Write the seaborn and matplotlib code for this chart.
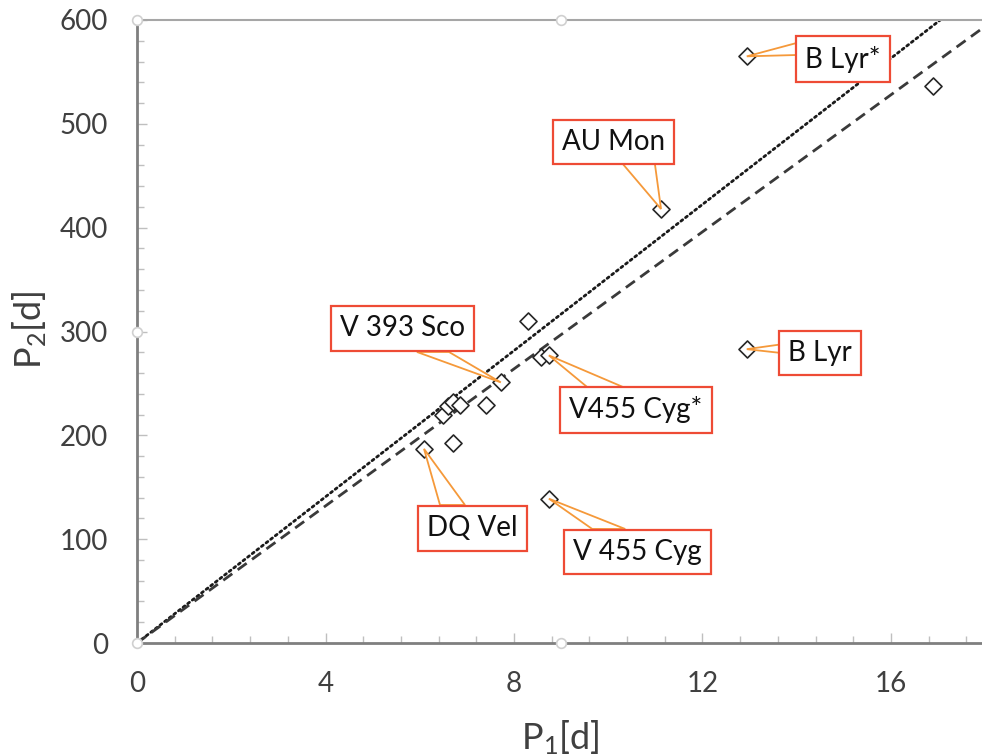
import numpy as np
import pandas as pd
import matplotlib
matplotlib.use("Agg")
import matplotlib.pyplot as plt
from matplotlib.patches import Polygon
from matplotlib.ticker import MultipleLocator
import seaborn as sns

# Orbital period P1 and long period P2 (days)
P1 = [12.94, 16.89, 11.12, 12.94, 8.30, 8.57, 8.74, 7.72, 7.41, 6.71, 6.09, 8.74,
      6.50, 6.60, 6.70, 6.85]
P2 = [565, 536, 418, 283, 310, 275, 277, 251, 229, 193, 187, 139,
      220, 228, 232, 229]

# Proportional relations P2 = k * P1
k_dotted = 35.2
k_dashed = 33.0
fit_x = [0.0, 18.0]

x_ticks = [0, 4, 8, 12, 16]
y_ticks = [0, 100, 200, 300, 400, 500, 600]

# Named stars: label, index into P1/P2
names = ["B Lyr*", "AU Mon", "V 393 Sco", "V455 Cyg*", "B Lyr", "DQ Vel", "V 455 Cyg"]
name_idx = [0, 2, 7, 6, 3, 10, 11]
# callout box centre and wedge base points (data units)
box_xy = [(14.98, 562.4), (10.11, 482.5), (5.63, 302.9), (10.59, 224.4),
          (14.50, 279.3), (7.11, 110.3), (10.62, 87.6)]
wedge_base = [((14.0, 577.9), (14.0, 566.3)),
              ((10.31, 461.3), (10.99, 461.3)),
              ((5.94, 280.3), (6.62, 280.3)),
              ((9.55, 246.6), (10.31, 246.6)),
              ((13.73, 288.0), (13.73, 279.0)),
              ((6.43, 132.9), (6.96, 132.9)),
              ((9.66, 109.8), (10.36, 109.8))]

sns.set_theme(style="white")
plt.rcParams["font.family"] = ["Lato", "DejaVu Sans"]
plt.rcParams["mathtext.fontset"] = "custom"
plt.rcParams["mathtext.rm"] = "Lato"
plt.rcParams["mathtext.it"] = "Lato:italic"

fig = plt.figure(figsize=(9.82, 7.56), dpi=100)
ax = fig.add_axes([137 / 982, 113 / 756, 848.25 / 982, 623 / 756])

df = pd.DataFrame({"P1": P1, "P2": P2})
lines = pd.DataFrame({"x": fit_x,
                      "dot": [k_dotted * v for v in fit_x],
                      "dash": [k_dashed * v for v in fit_x]})

sns.lineplot(data=lines, x="x", y="dot", ax=ax, color="#1a1a1a", lw=2.0, zorder=2)
ax.lines[-1].set_dashes((0.8, 1.3))
ax.lines[-1].set_dash_capstyle("round")
sns.lineplot(data=lines, x="x", y="dash", ax=ax, color="#3a3a3a", lw=2.0, zorder=2)
ax.lines[-1].set_dashes((4, 2.4))

sns.scatterplot(data=df, x="P1", y="P2", ax=ax, marker="D", s=75,
                facecolor="white", edgecolor="#262626", linewidth=1.2, zorder=3)

ax.set_xlim(0, 18)
ax.set_ylim(0, 600)
ax.xaxis.set_minor_locator(MultipleLocator(0.8))
ax.yaxis.set_minor_locator(MultipleLocator(20))
ax.set_xticks(x_ticks)
ax.set_yticks(y_ticks)
ax.tick_params(which="both", direction="in", color="#bfbfbf", width=1,
               labelcolor="#404040", labelsize=20)
ax.tick_params(which="major", length=7)
ax.tick_params(which="minor", length=5)
ax.tick_params(axis="y", which="major", pad=21, left=True)
ax.tick_params(axis="x", which="major", pad=20, bottom=True)
ax.tick_params(axis="y", which="minor", left=True)
ax.tick_params(axis="x", which="minor", bottom=True)

for s in ["left", "bottom"]:
    ax.spines[s].set_color("#7f7f7f")
    ax.spines[s].set_linewidth(2)
ax.spines["top"].set_color("#a6a6a6")
ax.spines["top"].set_linewidth(1.5)
ax.spines["right"].set_visible(False)

ax.set_xlabel(r"P$_1$[d]", fontsize=26, color="#404040")
ax.set_ylabel(r"P$_2$[d]", fontsize=26, color="#404040")
ax.xaxis.set_label_coords(0.4987, -0.1525)
ax.xaxis.label.set_va("center")
ax.yaxis.set_label_coords(-0.126, 0.5024)
ax.yaxis.label.set_va("center")

# callouts
for name, i, (bx, by), (b1, b2) in zip(names, name_idx, box_xy, wedge_base):
    wedge = Polygon([b1, (P1[i], P2[i]), b2], closed=True, facecolor="white",
                    edgecolor="#f5993a", lw=1.3, zorder=4, clip_on=False)
    ax.add_patch(wedge)
    ax.text(bx, by, name, ha="center", va="center", fontsize=20, color="#111111",
            zorder=5,
            bbox=dict(boxstyle="square,pad=0.33", facecolor="white",
                      edgecolor="#ee4b35", lw=1.6))

# plot-area handles
for hx, hy in [(0, 600), (9, 600), (0, 300), (0, 0), (9, 0)]:
    ax.plot(hx, hy, marker="o", ms=7, mfc="white", mec="#d0d0d0", mew=1.2,
            clip_on=False, zorder=6)

fig.savefig("out.png", dpi=100)
